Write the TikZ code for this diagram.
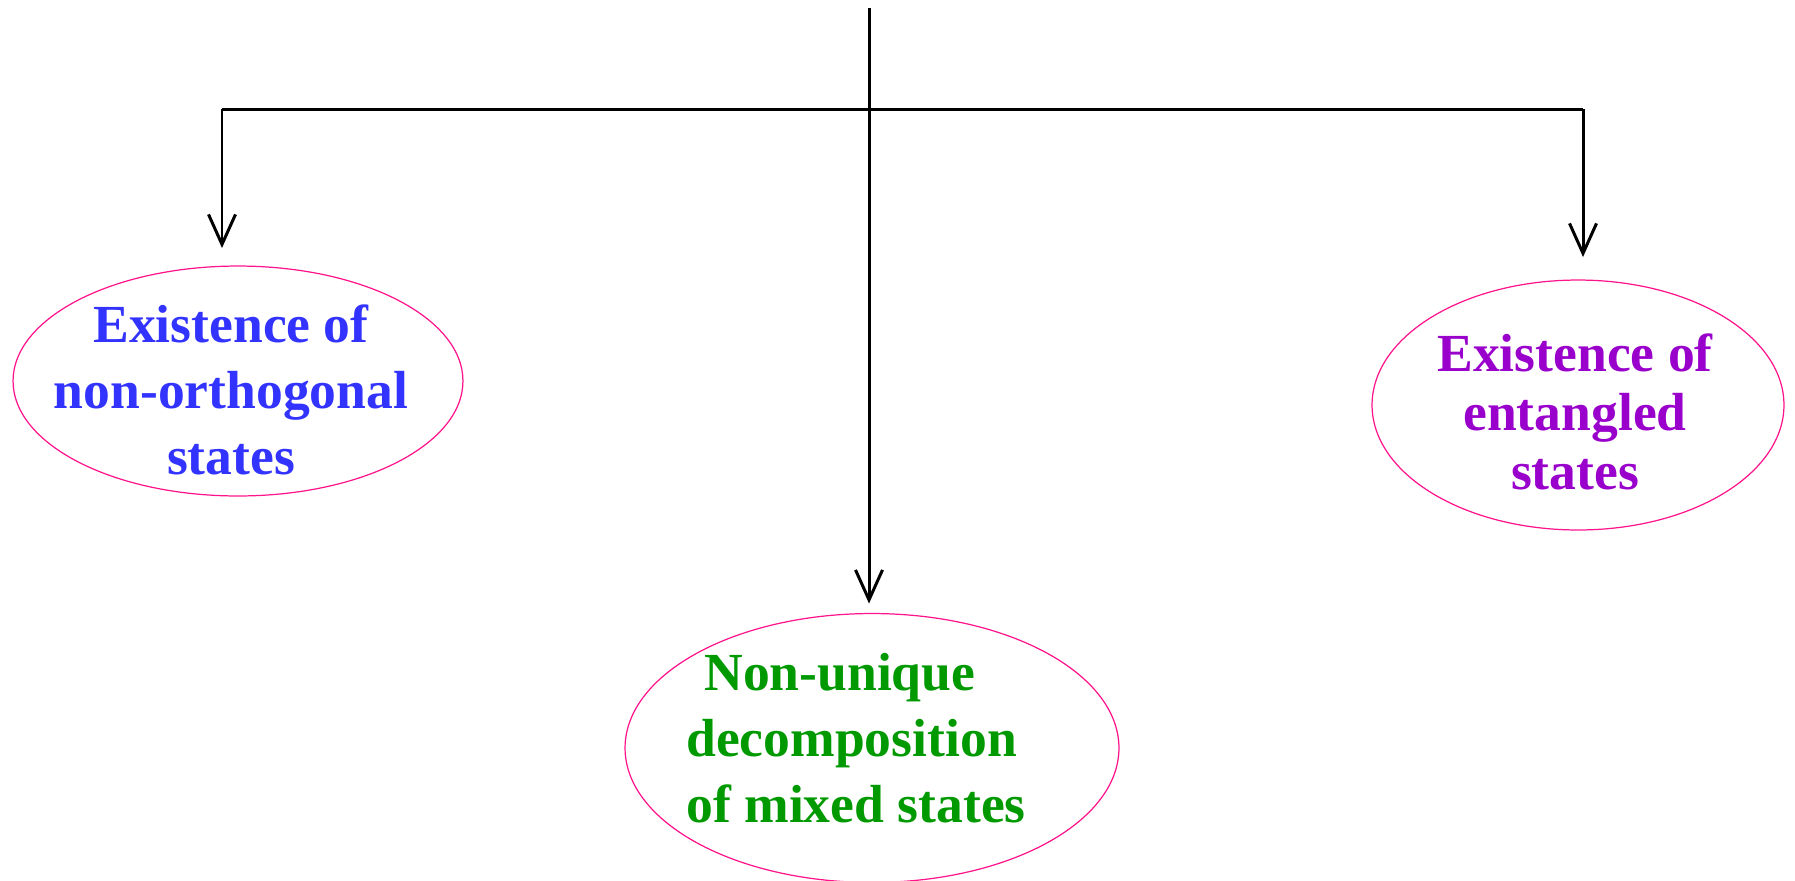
\documentclass[tikz,border=0pt]{standalone}
\usepackage{fontspec}
\setmainfont{Liberation Serif}
\usepackage{xcolor}
\usetikzlibrary{arrows.meta, positioning, shapes.geometric}

\definecolor{ovalpink}{RGB}{255,20,140}
\definecolor{txtblue}{RGB}{51,51,255}
\definecolor{txtgreen}{RGB}{0,153,0}
\definecolor{txtpurple}{RGB}{153,0,204}

\tikzset{
    oval/.style={draw=ovalpink, line width=0.7pt, ellipse, inner sep=0pt, outer sep=0pt},
    label txt/.style={font=\bfseries\fontsize{30.5}{37.5}\selectfont, align=center, inner sep=0pt},
    tree/.style={line width=1.7pt, black},
    arr/.style={tree, -{Straight Barb[length=0.6cm, width=0.54cm, line width=1.7pt]}}
}

\begin{document}
\begin{tikzpicture}[x=0.02cm, y=-0.02cm]
    \useasboundingbox (0,0) rectangle (1795,880);

    \node[oval, minimum width=9cm, minimum height=4.6cm] (ortho) at (238,381) {};
    \node[oval, minimum width=9.88cm, minimum height=5.38cm] (mixed) at (872,748) {};
    \node[oval, minimum width=8.24cm, minimum height=5cm] (entang) at (1578,405) {};

    \node[label txt, text=txtblue] (orthotxt) at (231,390) {Existence of\\non-orthogonal\\states};
    \node[label txt, text=txtgreen, align=left] (mixedtxt) at (856,738) {\hspace*{0.36cm}Non-unique\\decomposition\\of mixed states};
    \node[label txt, text=txtpurple, font=\bfseries\fontsize{30.5}{33.5}\selectfont] (entangtxt) at (1575,412) {Existence of\\entangled\\states};

    \coordinate (top) at (869,8);
    \coordinate (hleft) at (222,109);
    \coordinate (hright) at (1583,109);

    \draw[tree] (hleft) -- (hright);
    \draw[arr, shorten >=0.2cm] (top) -- (top |- mixed.north);
    \draw[arr, shorten >=0.36cm] (hleft) -- (hleft |- ortho.north);
    \draw[arr, shorten >=0.46cm] (hright) -- (hright |- entang.north);
\end{tikzpicture}
\end{document}
